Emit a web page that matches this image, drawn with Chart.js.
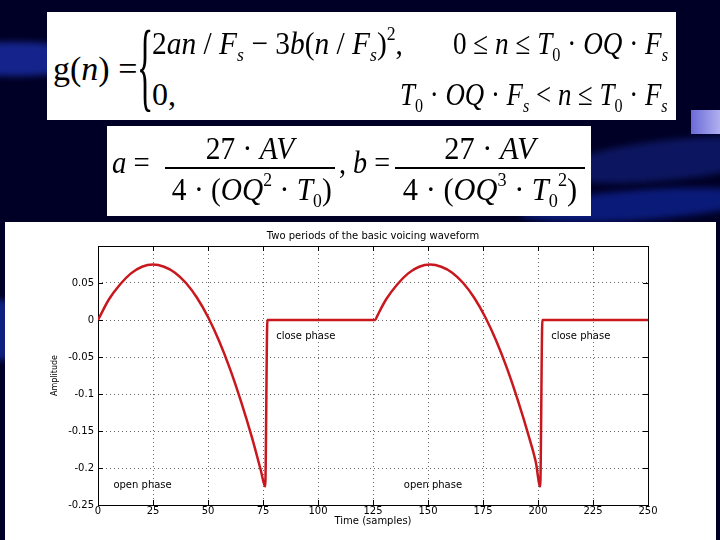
<!DOCTYPE html>
<html>
<head>
<meta charset="utf-8">
<script src="https://cdn.jsdelivr.net/npm/chart.js@4.4.1/dist/chart.umd.min.js"></script>
<style>
	html, body { margin: 0; padding: 0; }
	body { width: 720px; height: 540px; overflow: hidden; position: relative; background: #000026; font-family: "Liberation Serif", serif; }
	.swoosh { position: absolute; border-radius: 50%; filter: blur(3px); }
	.eq { position: absolute; background: #fff; }
	.t { position: absolute; font-size: 32px; line-height: 32px; white-space: nowrap; color: #000; }
	.sb { font-size: 0.6em; position: relative; top: 0.35em; font-style: italic; }
	.sb0 { font-size: 0.6em; position: relative; top: 0.35em; }
	.sp { font-size: 0.6em; position: relative; top: -0.75em; }
	.bar { position: absolute; height: 1.5px; background: #000; }
	#panel { position: absolute; left: 5px; top: 222px; width: 711px; height: 318px; background: #fff; }
</style>
</head>
<body>
	<div class="swoosh" style="left:-60px;top:42px;width:150px;height:34px;background:#14248c;"></div>
	<div class="swoosh" style="left:-40px;top:300px;width:80px;height:60px;background:#102080;"></div>
	<div class="swoosh" style="left:560px;top:140px;width:220px;height:40px;background:#0c1660;transform:rotate(-6deg);"></div>
	<div class="swoosh" style="left:520px;top:190px;width:240px;height:30px;background:#0a1a78;transform:rotate(-4deg);"></div>
	<div style="position:absolute;left:691px;top:110px;width:29px;height:24px;background:linear-gradient(to right,#6a6ad8,#b0b0f0);"></div>

	<div class="eq" style="left:47px;top:12px;width:629px;height:108px;">
		<div class="t" style="left:6px;top:41px;font-size:34px;">g(<i>n</i>) =</div>
		<div class="t" style="left:90px;top:39px;font-size:34px;transform:scaleY(2.9);transform-origin:50% 50%;">{</div>
		<div class="t" style="left:105px;top:15px;transform:scaleX(0.92);transform-origin:0 50%;">2<i>an</i> / <i>F</i><span class="sb">s</span> − 3<i>b</i>(<i>n</i> / <i>F</i><span class="sb">s</span>)<span class="sp">2</span>,</div>
		<div class="t" style="right:8px;top:15px;transform:scaleX(0.85);transform-origin:100% 50%;">0 ≤ <i>n</i> ≤ <i>T</i><span class="sb0">0</span> · <i>OQ</i> · <i>F</i><span class="sb">s</span></div>
		<div class="t" style="left:105px;top:66px;">0,</div>
		<div class="t" style="right:8px;top:66px;transform:scaleX(0.84);transform-origin:100% 50%;"><i>T</i><span class="sb0">0</span> · <i>OQ</i> · <i>F</i><span class="sb">s</span> &lt; <i>n</i> ≤ <i>T</i><span class="sb0">0</span> · <i>F</i><span class="sb">s</span></div>
	</div>

	<div class="eq" style="left:107px;top:126px;width:484px;height:90px;">
		<div class="t" style="left:5px;top:20px;transform:scaleX(0.9);transform-origin:0 50%;"><i>a</i> =</div>
		<div class="t" style="left:58px;width:170px;text-align:center;top:6px;transform:scaleX(0.92);">27 · <i>AV</i></div>
		<div class="bar" style="left:58px;width:170px;top:41px;"></div>
		<div class="t" style="left:58px;width:170px;text-align:center;top:47px;transform:scaleX(0.92);">4 · (<i>OQ</i><span class="sp">2</span> · <i>T</i><span class="sb0">0</span>)</div>
		<div class="t" style="left:232px;top:20px;transform:scaleX(0.88);transform-origin:0 50%;">, <i>b</i> =</div>
		<div class="t" style="left:288px;width:190px;text-align:center;top:6px;transform:scaleX(0.95);">27 · <i>AV</i></div>
		<div class="bar" style="left:288px;width:190px;top:41px;"></div>
		<div class="t" style="left:288px;width:190px;text-align:center;top:47px;transform:scaleX(0.95);">4 · (<i>OQ</i><span class="sp">3</span> · <i>T</i><span class="sb0">0</span><span class="sp">2</span>)</div>
	</div>

	<div id="panel"><canvas id="wave" width="711" height="318"></canvas></div>

<script>
// values
const timeSamples = [0, 5, 10, 15, 20, 25, 30, 35, 40, 45, 50, 55, 60, 65, 70, 74, 76, 77, 100,
	126, 127, 131, 136, 141, 146, 151, 156, 161, 166, 171, 176, 181, 186, 191, 196, 199, 201, 202, 225, 250];
const amplitude = [0, 0.028, 0.048, 0.063, 0.072, 0.075, 0.072, 0.064, 0.05, 0.03, 0.004, -0.028, -0.066, -0.11, -0.159, -0.203, -0.225, 0, 0,
	0, 0.006, 0.028, 0.048, 0.063, 0.072, 0.075, 0.072, 0.064, 0.05, 0.03, 0.004, -0.028, -0.066, -0.11, -0.159, -0.192, -0.225, 0, 0, 0];
const xTickStep = 25;
const yTickStep = 0.05;
const chartTitle = "Two periods of the basic voicing waveform";
const xTitle = "Time (samples)";
const yTitle = "Amplitude";
const phaseLabels = ["close phase", "close phase", "open phase", "open phase"];
const phaseAtTime = [81, 206, 7, 139];
const phaseAtAmp = [-0.022, -0.022, -0.223, -0.223];

const axisFont = { family: "DejaVu Sans", size: 10 };

// matlab style box with inward ticks
const boxFrame = {
	id: "boxFrame",
	beforeDatasetsDraw(chart) {
		const { ctx, chartArea: a, scales } = chart;
		ctx.save();
		ctx.strokeStyle = "#000";
		ctx.lineWidth = 1;
		ctx.strokeRect(a.left + 0.5, a.top + 0.5, a.right - a.left, a.bottom - a.top);
		ctx.beginPath();
		scales.x.ticks.forEach(t => {
			var px = Math.round(scales.x.getPixelForValue(t.value)) + 0.5;
			ctx.moveTo(px, a.bottom); ctx.lineTo(px, a.bottom - 5);
			ctx.moveTo(px, a.top); ctx.lineTo(px, a.top + 5);
		});
		scales.y.ticks.forEach(t => {
			var py = Math.round(scales.y.getPixelForValue(t.value)) + 0.5;
			ctx.moveTo(a.left, py); ctx.lineTo(a.left + 5, py);
			ctx.moveTo(a.right, py); ctx.lineTo(a.right - 5, py);
		});
		ctx.stroke();
		ctx.restore();
	}
};

const phaseNotes = {
	id: "phaseNotes",
	afterDatasetsDraw(chart) {
		const { ctx, scales } = chart;
		ctx.save();
		ctx.font = "10px 'DejaVu Sans'";
		ctx.fillStyle = "#000";
		ctx.textAlign = "left";
		ctx.textBaseline = "middle";
		for (var i = 0; i < phaseLabels.length; i++) {
			ctx.fillText(phaseLabels[i], scales.x.getPixelForValue(phaseAtTime[i]), scales.y.getPixelForValue(phaseAtAmp[i]));
		}
		ctx.restore();
	}
};

new Chart(document.getElementById("wave"), {
	type: "line",
	data: {
		datasets: [{
			data: timeSamples.map((t, i) => ({ x: t, y: amplitude[i] })),
			borderColor: "#c8181e",
			borderWidth: 2.5,
			pointRadius: 0,
			cubicInterpolationMode: "monotone",
			fill: false,
		}],
	},
	options: {
		responsive: false,
		animation: false,
		layout: { padding: { left: 40, right: 68, top: 0, bottom: 0 } },
		plugins: {
			legend: { display: false },
			tooltip: { enabled: false },
			title: {
				display: true,
				text: chartTitle,
				fullSize: false,
				color: "#000",
				font: { family: "DejaVu Sans", size: 10, weight: "normal" },
				padding: { top: 8, bottom: 4 },
			},
		},
		scales: {
			x: {
				type: "linear",
				min: 0,
				max: 250,
				ticks: { stepSize: xTickStep, color: "#000", font: axisFont, padding: 0, maxRotation: 0 },
				grid: { drawTicks: false, color: "#666" },
				border: { display: false, dash: [1, 3] },
				title: { display: true, text: xTitle, color: "#000", font: axisFont, padding: { top: 0, bottom: 13 } },
				afterFit: s => { s.height = 35; },
			},
			y: {
				min: -0.25,
				max: 0.1,
				ticks: {
					stepSize: yTickStep,
					color: "#000",
					font: axisFont,
					padding: 4,
					callback: v => Math.abs(v - 0.1) < 1e-9 ? "" : String(Math.round(v * 100) / 100),
				},
				grid: { drawTicks: false, color: "#666" },
				border: { display: false, dash: [1, 3] },
				title: { display: true, text: yTitle, color: "#000", font: { family: "DejaVu Sans", size: 8 }, padding: { top: 5, bottom: 0 } },
				afterFit: s => { s.width = 53; },
			},
		},
	},
	plugins: [boxFrame, phaseNotes],
});
</script>
</body>
</html>
